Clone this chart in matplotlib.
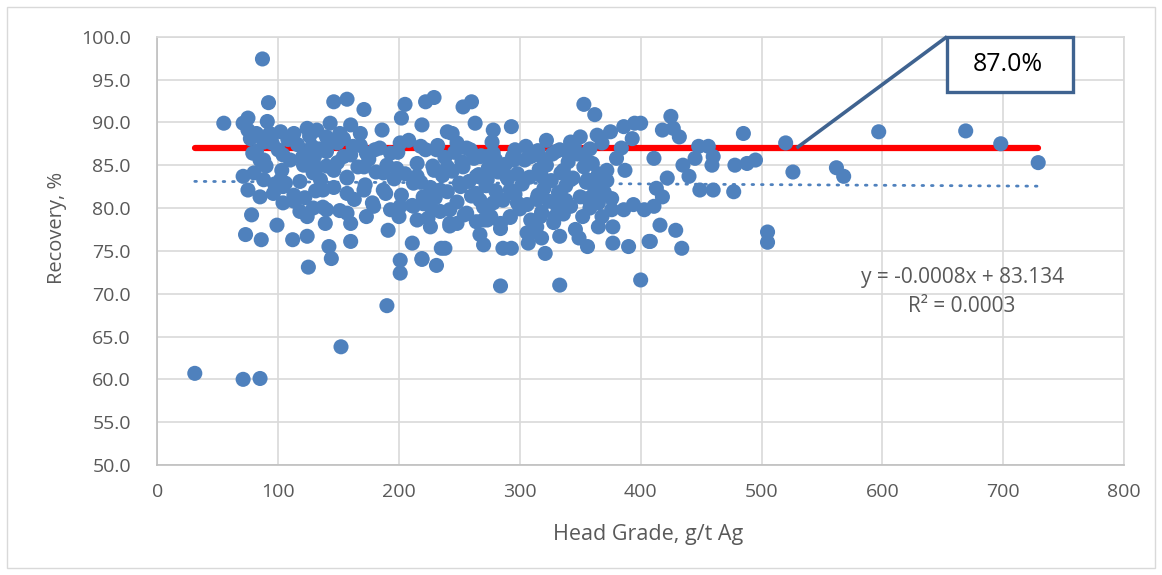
import matplotlib
matplotlib.use("Agg")
import matplotlib.pyplot as plt
from matplotlib.patches import Rectangle

# ---------------- data ----------------
outlier_pts = [(31,60.7),(71,60.0),(85,60.1),(152,63.8),(190,68.6),(87,97.4),(284,70.9),(333,71.0),
               (400,71.6),(125,73.1),(201,72.4),(201,73.9),(231,73.3),(219,74.0)]
right_pts = [(520,87.6),(526,84.2),(597,88.9),(562,84.7),(568,83.7),(669,89.0),(698,87.5),(729,85.3),
             (505,77.2),(505,76.0),(478,85.0),(477,81.9),(485,88.7),(488,85.2),(495,85.6),(448,87.2),
             (456,87.2),(445,85.8),(460,86.0),(459,85.0),(449,82.1),(460,82.1),(435,85.0),(440,83.7),
             (432,88.3),(427,89.3),(418,89.1),(425,90.7),(400,89.9),(411,85.8),(422,83.5),(413,82.3),
             (418,81.3),(403,79.8),(411,80.2),(416,78.0),(429,77.4),(408,76.1),(434,75.3)]
mid_right_pts = [(353,92.1),(362,90.9),(395,89.9),(386,89.5),(393,88.1),(384,87.0),(278,89.1),(293,89.5),
                 (277,87.7),(322,87.9),(342,87.7),(350,88.3),(364,88.5),(375,88.9),(296,86.8),(333,86.8),
                 (267,86.0),(280,85.6),(295,85.6),(309,86.0),(320,85.6),(336,84.4),(353,84.8),(372,84.4),
                 (380,85.8),(387,84.4),(273,83.3),(289,83.7),(303,83.3),(318,83.7),(342,83.3),(356,83.3),
                 (364,82.5),(267,80.9),(278,80.6),(292,82.1),(298,80.6),(315,81.5),(331,80.2),(338,80.9),
                 (356,81.1),(365,80.6),(376,81.1),(376,79.8),(386,79.8),(394,80.4),(273,78.6),(284,78.2),
                 (292,79.0),(309,78.6),(317,79.0),(329,79.0),(306,77.1),(314,77.8),(318,76.5),(333,76.7),
                 (349,76.5),(356,75.5),(365,77.8),(377,77.8),(270,75.7),(286,75.3),(293,75.3),(307,75.9),
                 (321,74.7),(377,75.9),(390,75.5),(407,76.1)]
mid_pts = [(146,92.4),(157,92.7),(171,91.5),(205,92.1),(202,90.5),(222,92.4),(229,92.9),(253,91.8),
           (260,92.4),(263,89.9),(143,89.9),(160,89.7),(140,88.3),(151,88.7),(168,88.7),(186,89.1),
           (219,89.7),(240,88.9),(244,88.7),(135,86.8),(149,87.6),(154,86.0),(162,87.2),(173,86.4),
           (180,86.8),(193,86.4),(201,87.6),(218,87.2),(231,86.8),(248,87.6),(259,86.8),(273,86.0),
           (146,84.4),(157,83.5),(171,84.8),(187,84.1),(198,84.6),(215,83.7),(229,84.4),(240,84.8),
           (253,84.8),(264,83.7),(137,82.1),(157,81.7),(171,82.1),(189,81.7),(212,82.9),(220,81.3),
           (234,82.1),(251,82.5),(264,81.7),(140,79.8),(157,79.4),(179,80.2),(201,80.2),(212,80.2),
           (226,80.2),(242,79.8),(256,79.4),(270,78.6),(139,78.2),(160,78.2),(173,79.0),(191,77.4),
           (200,79.0),(215,78.6),(226,77.8),(242,78.2),(248,78.2),(267,76.9),(142,75.5),(144,74.1),
           (160,76.1),(211,75.9),(219,74.1),(235,75.3),(238,75.3)]
left_pts = [(92,92.3),(55,89.9),(75,90.5),(71,89.9),(91,90.1),(75,89.1),(77,88.1),(93,88.7),(102,88.9),
            (113,88.7),(124,89.3),(132,89.1),(88,87.7),(82,86.6),(85,85.6),(104,86.2),(121,85.0),
            (129,84.1),(135,83.3),(71,83.7),(80,84.1),(88,83.3),(75,82.1),(85,81.3),(96,81.7),(102,83.3),
            (104,82.5),(113,81.5),(104,80.6),(118,79.6),(124,79.0),(129,80.0),(78,79.2),(99,78.0),
            (73,76.9),(86,76.3),(112,76.3),(124,76.7),(125,86.5),(130,86.0),(128,87.2),(140,86.6),
            (132,84.7),(79,86.4),(82,88.7),(90,84.9),(95,87.6),(97,82.8),(88,85.6)]
core_pts = [(215,85.2),(218,83.0),(220,80.5),(222,86.8),(224,78.8),(226,82.4),(228,84.9),(230,81.2),
            (232,87.3),(234,79.6),(236,83.8),(238,85.9),(240,81.9),(242,77.9),(244,84.3),(246,86.5),
            (248,80.7),(250,82.9),(252,85.4),(254,79.2),(256,87.0),(258,83.1),(260,81.4),(262,85.8),
            (264,78.4),(266,83.9),(268,86.1),(270,80.1),(272,82.6),(274,84.7),(276,79.0),(278,86.4),
            (280,82.0),(282,84.2),(284,77.6),(286,80.9),(288,85.1),(290,83.4),(292,78.9),(294,86.0),
            (296,81.6),(298,84.0),(300,79.9),(302,82.8),(304,85.6),(306,80.4),(308,83.6),(310,77.2),
            (312,86.2),(314,81.0),(316,84.5),(318,79.5),(320,82.3),(322,85.0),(324,80.8),(326,83.2),
            (328,78.3),(330,86.6),(332,81.8),(334,84.1),(336,79.3),(338,82.6),(340,85.4),(342,80.2),
            (344,83.5),(346,77.5),(348,86.3),(350,81.3),(352,79.0),(355,83.0),(358,80.0),(360,85.2),
            (362,82.0),(365,84.0),(368,79.0),(370,81.8),(372,83.2),
            (100,86.8),(103,84.4),(106,82.9),(108,88.0),(110,85.6),(113,80.8),(116,87.4),(118,83.1),
            (120,85.9),(122,81.2),(126,88.4),(128,84.6),(131,82.0),(134,86.9),(137,80.1),(140,84.9),
            (142,87.8),(146,82.4),(149,85.3),(151,79.7),(154,88.1),(157,83.6),(160,86.2),(163,81.0),
            (166,84.8),(168,87.3),(172,82.7),(175,85.7),(178,80.6),(181,84.2),(184,87.0),(187,82.1),
            (190,85.0),(193,79.8),(196,83.4),(199,86.5),(202,81.5),(205,84.0),(208,87.9),(211,80.3),
            (213,83.3),
            (345,87.3),(358,86.9),(368,87.6),(305,87.2),(315,86.7),(327,86.3),(340,86.5),(353,86.2)]

all_pts = outlier_pts + right_pts + mid_right_pts + mid_pts + left_pts + core_pts
head_grade = [p[0] for p in all_pts]
recovery = [p[1] for p in all_pts]

target_recovery = 87.0
trend_slope = -0.0008
trend_intercept = 83.134
x_ticks = [0, 100, 200, 300, 400, 500, 600, 700, 800]
y_ticks = [50, 55, 60, 65, 70, 75, 80, 85, 90, 95, 100]

# ---------------- plot ----------------
FONT = "Open Sans"
GREY = "#595959"
BLUE = "#4F81BD"

fig = plt.figure(figsize=(11.62, 5.75), dpi=100)
fig.patch.set_facecolor("white")
fig.patches.append(Rectangle((0.006, 0.012), 0.988, 0.976, transform=fig.transFigure,
                             fill=False, edgecolor="#D9D9D9", linewidth=1.0))

ax = fig.add_axes([0.1354, 0.1913, 0.8319, 0.7449])
ax.set_xlim(0, 800)
ax.set_ylim(50, 100)
ax.set_xticks(x_ticks)
ax.set_yticks(y_ticks)
ax.set_xticklabels([str(v) for v in x_ticks], fontsize=14, color=GREY, family=FONT)
ax.set_yticklabels([f"{v:.1f}" for v in y_ticks], fontsize=14, color=GREY, family=FONT)
ax.tick_params(length=0, pad=13)
ax.tick_params(axis="y", pad=19)
ax.grid(True, color="#D9D9D9", linewidth=1.2)
ax.set_axisbelow(True)
for s in ["top", "right"]:
    ax.spines[s].set_color("#D9D9D9")
    ax.spines[s].set_linewidth(1.2)
for s in ["left", "bottom"]:
    ax.spines[s].set_color("#BFBFBF")
    ax.spines[s].set_linewidth(1.2)

ax.scatter(head_grade, recovery, s=118, color=BLUE, edgecolors="none", zorder=3)

xmin, xmax = min(head_grade), max(head_grade)
ax.plot([xmin, xmax], [target_recovery, target_recovery], color="#FF0000", linewidth=4.5,
        solid_capstyle="round", zorder=2)
ax.plot([xmin, xmax], [trend_slope * xmin + trend_intercept, trend_slope * xmax + trend_intercept],
        color=BLUE, linewidth=2.0, linestyle=(0, (0.6, 2.8)), dash_capstyle="round", zorder=2)

# callout
ax.plot([529, 653.5], [87.0, 100.0], color="#3F6390", linewidth=2.6, zorder=4,
        clip_on=False, solid_capstyle="butt")
ax.add_patch(Rectangle((653.5, 93.6), 104.5, 6.4, fill=True, facecolor="white",
                       edgecolor="#3F6390", linewidth=2.4, zorder=5, clip_on=False))
ax.text(703.5, 96.7, "87.0%", ha="center", va="center", fontsize=18, color="black",
        family=FONT, zorder=6)

# trend equation
ax.text(666, 71.9, "y = -0.0008x + 83.134", ha="center", va="center", fontsize=15,
        color=GREY, family=FONT)
ax.text(666, 68.45, "R² = 0.0003", ha="center", va="center", fontsize=15,
        color=GREY, family=FONT)

fig.text(0.0491, 0.6035, "Recovery, %", rotation=90, ha="center", va="center",
         fontsize=14.5, color=GREY, family=FONT)
fig.text(0.558, 0.070, "Head Grade, g/t Ag", ha="center", va="center",
         fontsize=15.5, color=GREY, family=FONT)

fig.savefig("out.png", dpi=100, facecolor="white")
